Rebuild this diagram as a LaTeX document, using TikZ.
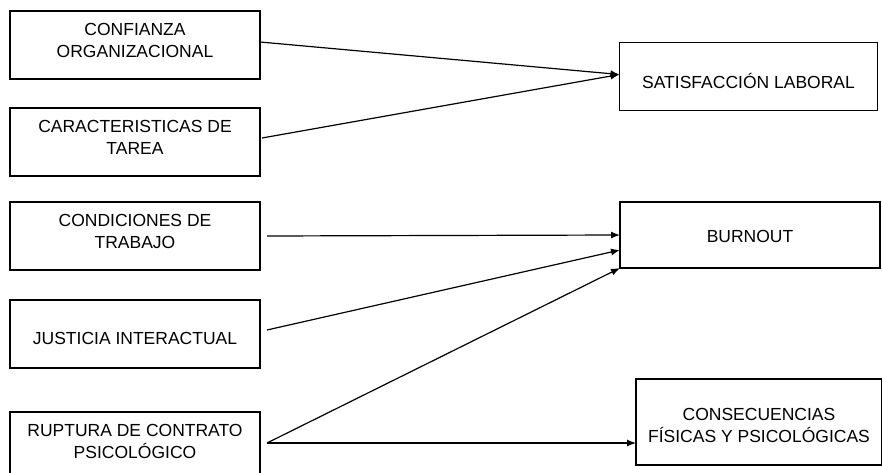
\documentclass[tikz,border=0pt]{standalone}
\usepackage{fontspec}
\setmainfont{Liberation Sans}
\usetikzlibrary{positioning,arrows.meta}

\begin{document}
\begin{tikzpicture}[
	x=1pt, y=-1pt,
	node distance=28pt,
	factor/.style={rectangle, draw=black, line width=1.3pt, fill=white, outer sep=0pt, minimum width=250pt, minimum height=68pt, align=center, inner sep=2pt, font=\fontsize{17.5}{22}\selectfont},
	twoline/.style={text depth=9pt},
	effect/.style={factor, minimum width=258pt},
	arrow/.style={-{Latex[length=9pt,width=7pt]}, line width=1.2pt, draw=black}
]
\useasboundingbox (0,0) rectangle (882,473);
% left column: antecedents
\node (conf) [factor, twoline] at (135,45) {CONFIANZA\\ORGANIZACIONAL};
\node (tarea) [factor, twoline, below=29pt of conf] {CARACTERISTICAS DE\\TAREA};
\node (cond) [factor, twoline, below=26pt of tarea] {CONDICIONES DE\\TRABAJO};
\node (just) [factor, text height=22pt, below=30pt of cond] {JUSTICIA INTERACTUAL};
\node (rupt) [factor, twoline, below=44pt of just] {RUPTURA DE CONTRATO\\PSICOLÓGICO};
% right column: outcomes
\node (satis) [effect, text height=25pt] at (748.5,76.5) {SATISFACCIÓN LABORAL};
\node (burn) [effect, text height=16pt, minimum width=260pt, minimum height=66pt] at (750,235) {BURNOUT};
\node (conse) [effect, text height=41pt, minimum width=246pt, minimum height=86pt] at (759,422) {CONSECUENCIAS\\FÍSICAS Y PSICOLÓGICAS};
\draw [arrow] ([yshift=3pt]conf.east) -- ([yshift=2pt]satis.west);
\draw [arrow] ([xshift=2pt,yshift=4pt]tarea.east) -- ([yshift=2pt]satis.west);
\draw [arrow] ([xshift=7pt]cond.east) -- (burn.west);
\draw [arrow] ([xshift=7pt,yshift=4pt]just.east) -- ([yshift=-15pt]burn.west);
\draw [arrow] ([xshift=7pt,yshift=3pt]rupt.east) -- (burn.south west);
\draw [arrow] ([xshift=7pt,yshift=3pt]rupt.east) -- ([yshift=3pt]rupt.east -| conse.west);
\end{tikzpicture}
\end{document}
